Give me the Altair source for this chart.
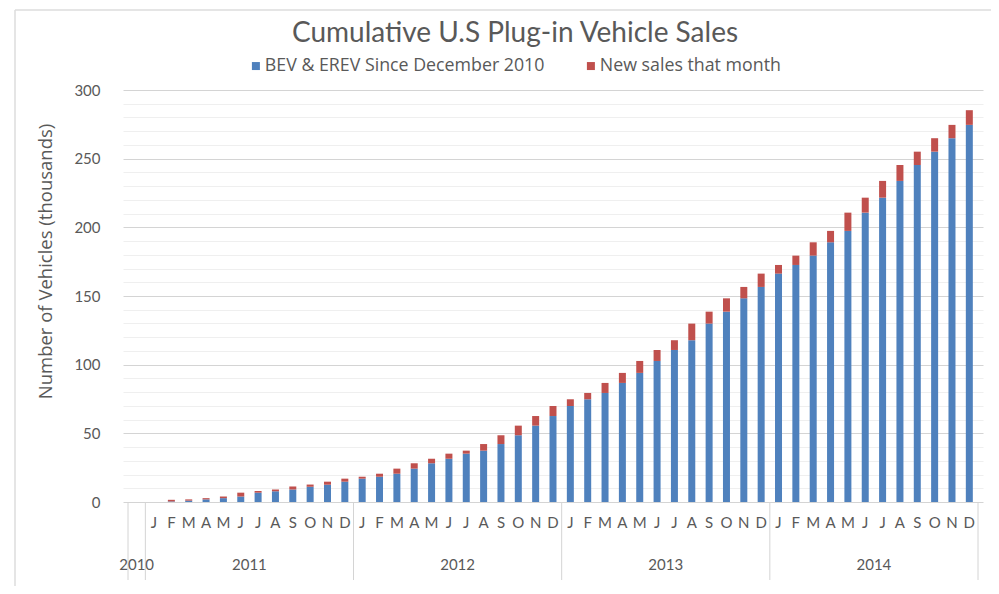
import altair as alt
import pandas as pd

# ---------------- data ----------------
chart_title = "Cumulative U.S Plug-in Vehicle Sales"
month_labels = [
    "",
    "J", "F", "M", "A", "M", "J", "J", "A", "S", "O", "N", "D",
    "J", "F", "M", "A", "M", "J", "J", "A", "S", "O", "N", "D",
    "J", "F", "M", "A", "M", "J", "J", "A", "S", "O", "N", "D",
    "J", "F", "M", "A", "M", "J", "J", "A", "S", "O", "N", "D",
]
years = ["2010", "2011", "2012", "2013", "2014"]
months_per_year = [1, 12, 12, 12, 12]

# cumulative BEV & EREV (thousands) before the month's sales
bev_cumulative = [
    0, 0, 0.4, 1.0, 1.9, 2.8, 4.0, 6.8, 7.8, 9.1, 11.1, 12.6, 14.8,
    17.0, 18.4, 20.6, 24.3, 28.2, 31.5, 35.2, 37.4, 42.2, 48.6, 55.6, 62.6,
    69.9, 74.8, 79.4, 86.7, 94.0, 102.7, 110.7, 117.8, 129.9, 138.6, 148.3, 156.6,
    166.3, 172.6, 179.4, 189.1, 197.4, 210.7, 221.6, 233.8, 245.4, 255.1, 264.9, 274.6,
]
# new sales that month (thousands)
new_sales = [
    0, 0, 1.2, 0.9, 0.9, 1.2, 2.8, 1.2, 1.3, 2.2, 1.6, 2.2, 2.2,
    1.4, 2.2, 3.7, 3.9, 3.3, 3.7, 2.2, 4.8, 6.4, 7.0, 7.0, 7.3,
    4.9, 4.6, 7.3, 7.3, 8.7, 8.0, 7.1, 12.1, 8.7, 9.7, 8.3, 9.7,
    6.3, 6.8, 9.7, 8.3, 13.3, 10.9, 12.2, 11.6, 9.7, 9.8, 9.7, 10.7,
]
series_names = ["BEV & EREV Since December 2010", "New sales that month"]
series_colors = ["#4F81BD", "#C0504D"]

# ---------------- tables ----------------
rows = []
for i, (b, n) in enumerate(zip(bev_cumulative, new_sales)):
    rows.append({"idx": i, "series": series_names[0], "value": b, "order": 0})
    rows.append({"idx": i, "series": series_names[1], "value": n, "order": 1})
bars_df = pd.DataFrame(rows)

months_df = pd.DataFrame({"idx": list(range(len(month_labels))), "label": month_labels})

year_rows = []
bound_rows = [{"pos": -0.5}]
start = 0
for y, n in zip(years, months_per_year):
    year_rows.append({"year": y, "center": start + (n - 1) / 2})
    start += n
    bound_rows.append({"pos": start - 0.5})
years_df = pd.DataFrame(year_rows)
bounds_df = pd.DataFrame(bound_rows)
title_df = pd.DataFrame({"text": [chart_title]})

FONT = "Lato"
WIDE = "Open Sans"
GREY = "#595959"
LINE = "#d4d4d4"
xscale = alt.Scale(domain=[-0.5, len(month_labels) - 0.5], nice=False, zero=False)

bars = alt.Chart(bars_df).mark_bar(size=7).encode(
    x=alt.X("idx:Q", scale=xscale, axis=None),
    y=alt.Y(
        "value:Q",
        stack="zero",
        scale=alt.Scale(domain=[0, 300], nice=False),
        axis=alt.Axis(
            values=list(range(0, 301, 10)),
            labelExpr="datum.value % 50 === 0 ? datum.label : ''",
            gridColor={"condition": {"test": "datum.value % 50 === 0", "value": LINE}, "value": "#efefef"},
            domain=False,
            ticks=False,
            labelPadding=23,
            labelFont=FONT,
            labelFontSize=15,
            labelColor=GREY,
            title="Number of Vehicles (thousands)",
            titleFont=WIDE,
            titleFontSize=18.5,
            titleFontWeight="normal",
            titleColor=GREY,
            titleX=-78,
            titleY=171,
            titleAlign="center",
            titleBaseline="middle",
            titleAngle=-90,
        ),
    ),
    color=alt.Color(
        "series:N",
        scale=alt.Scale(domain=series_names, range=series_colors),
        legend=alt.Legend(
            title=None,
            orient="none",
            legendX=124,
            legendY=-33,
            direction="horizontal",
            symbolType="square",
            symbolSize=64,
            symbolStrokeWidth=0,
            labelFont=WIDE,
            labelFontSize=17.8,
            labelColor=GREY,
            labelLimit=0,
            labelOffset=0,
            columnPadding=37,
        ),
    ),
    order=alt.Order("order:Q", sort="ascending"),
)

seps = alt.Chart(bounds_df).mark_rule(color=LINE, strokeWidth=1).encode(
    x=alt.X("pos:Q", scale=xscale),
    y=alt.value(412),
    y2=alt.value(490),
)

frame_left = alt.Chart(title_df).mark_rule(color="#dcdcdc", strokeWidth=1.5).encode(
    x=alt.value(-108), y=alt.value(-80), y2=alt.value(496)
)
frame_top = alt.Chart(title_df).mark_rule(color="#dcdcdc", strokeWidth=1.5).encode(
    x=alt.value(-108), x2=alt.value(868), y=alt.value(-80)
)

title_text = alt.Chart(title_df).mark_text(
    font=FONT, fontSize=28, color=GREY, align="center", baseline="alphabetic"
).encode(
    x=alt.value(392),
    y=alt.value(-48),
    text="text:N",
)

month_text = alt.Chart(months_df).mark_text(
    font=FONT, fontSize=15, color=GREY, baseline="middle"
).encode(
    x=alt.X("idx:Q", scale=xscale),
    y=alt.value(433),
    text="label:N",
)

year_text = alt.Chart(years_df).mark_text(
    font=FONT, fontSize=15, color=GREY, baseline="middle"
).encode(
    x=alt.X("center:Q", scale=xscale),
    y=alt.value(475),
    text="year:N",
)

chart = alt.layer(
    frame_left, frame_top, title_text, bars, seps, month_text, year_text
).properties(
    width=860,
    height=412,
    autosize=alt.AutoSizeParams(type="none"),
    padding={"left": 115, "top": 82, "right": 8, "bottom": 84},
).configure_view(stroke=None)

chart.save("out.html", embed_options={"renderer": "svg", "actions": False})
